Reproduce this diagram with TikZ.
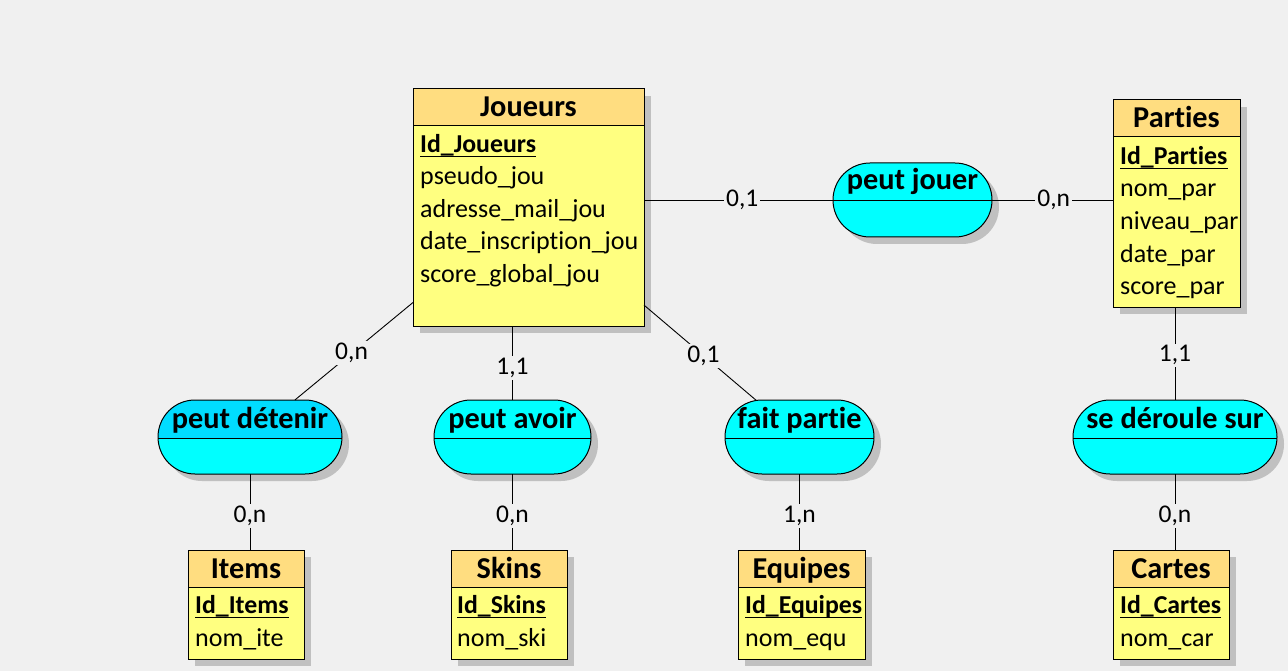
\documentclass[tikz,border=0pt]{standalone}
\usepackage{fontspec}
\setmainfont{Carlito}[Ligatures={NoCommon}]
\usetikzlibrary{shapes.misc,shadows}
\definecolor{bg}{RGB}{240,240,240}
\definecolor{enthead}{RGB}{255,221,128}
\definecolor{entbody}{RGB}{255,255,128}
\definecolor{assoc}{RGB}{0,255,255}
\definecolor{assochead}{RGB}{0,221,255}
\definecolor{shadowc}{RGB}{192,192,192}
\tikzset{
  shadowed/.style={drop shadow={shadow xshift=7pt,shadow yshift=-7pt,fill=shadowc,opacity=1}},
  entity/.style={draw, line width=1pt, fill=entbody, inner sep=0pt, outer sep=0pt, shadowed,
    path picture={\fill[enthead] (path picture bounding box.north west) rectangle ([yshift=-37pt]path picture bounding box.north east);
      \draw[line width=1pt] ([yshift=-37pt]path picture bounding box.north west) -- ([yshift=-37pt]path picture bounding box.north east);}},
  assocbox/.style={rounded rectangle, draw, line width=1pt, fill=assoc, inner sep=0pt, outer sep=0pt, minimum height=74pt, shadowed,
    path picture={\draw[line width=1pt] ([yshift=-38pt]path picture bounding box.north west) -- ([yshift=-38pt]path picture bounding box.north east);}},
  assocsel/.style={rounded rectangle, draw, line width=1pt, fill=assoc, inner sep=0pt, outer sep=0pt, minimum height=74pt, shadowed,
    path picture={\fill[assochead] (path picture bounding box.north west) rectangle ([yshift=-38pt]path picture bounding box.north east);
      \draw[line width=1pt] ([yshift=-38pt]path picture bounding box.north west) -- ([yshift=-38pt]path picture bounding box.north east);}},
  title/.style={font=\bfseries\fontsize{30.3}{33}\selectfont, inner sep=0pt, anchor=base},
  attr/.style={font=\fontsize{26}{30}\selectfont, inner sep=0pt, anchor=base west},
  idattr/.style={font=\bfseries\fontsize{25.8}{30}\selectfont, inner sep=0pt, anchor=base west},
  uline/.style={line width=1.2pt},
  conn/.style={line width=0.9pt, black},
  card/.style={font=\fontsize{25.5}{30}\selectfont, fill=bg, inner sep=2pt}
}
\begin{document}
\begin{tikzpicture}[x=1pt,y=-1pt]
\fill[bg] (0,0) rectangle (1288,671);
\useasboundingbox (0,0) rectangle (1288,671);

% entities
\node[entity, minimum width=231pt, minimum height=237pt] (joueurs) at (528.5,207.5) {};
\node[entity, minimum width=127pt, minimum height=207pt] (parties) at (1176.5,203.5) {};
\node[entity, minimum width=116pt, minimum height=109pt] (items) at (246,604.5) {};
\node[entity, minimum width=116pt, minimum height=109pt] (skins) at (509,604.5) {};
\node[entity, minimum width=127pt, minimum height=109pt] (equipes) at (801.5,604.5) {};
\node[entity, minimum width=116pt, minimum height=109pt] (cartes) at (1171,604.5) {};

% associations
\node[assocbox, minimum width=159pt] (pj) at (912.5,200) {};
\node[assocsel, minimum width=184pt] (pd) at (250,437) {};
\node[assocbox, minimum width=157pt] (pa) at (512.5,437) {};
\node[assocbox, minimum width=149pt] (fp) at (799.5,437) {};
\node[assocbox, minimum width=204pt] (sd) at (1175,437) {};

% connectors
\draw[conn] (pj.west -| joueurs.east) -- node[card, pos=0.52] (c1) {0,1} (pj.west);
\draw[conn] (pj.east) -- node[card, pos=0.51] (c2) {0,n} (pj.east -| parties.west);
\draw[conn] (joueurs) -- node[card, pos=0.52] (c3) {0,n} (pd);
\draw[conn] (pa.north |- joueurs.south) -- node[card, pos=0.57] (c4) {1,1} (pa.north);
\draw[conn] (joueurs) -- node[card, pos=0.53] (c5) {0,1} (fp);
\draw[conn] (sd.north |- parties.south) -- node[card, pos=0.52] (c6) {1,1} (sd.north);
\draw[conn] (pd.south) -- node[card, pos=0.55] (c7) {0,n} (pd.south |- items.north);
\draw[conn] (pa.south) -- node[card, pos=0.55] (c8) {0,n} (pa.south |- skins.north);
\draw[conn] (fp.south) -- node[card, pos=0.55] (c9) {1,n} (fp.south |- equipes.north);
\draw[conn] (sd.south) -- node[card, pos=0.55] (c10) {0,n} (sd.south |- cartes.north);

% association titles
\node[title] (pjt) at (912.5,190) {peut jouer};
\node[title] (pdt) at (250,428) {peut détenir};
\node[title] (pat) at (512.5,428) {peut avoir};
\node[title] (fpt) at (799.5,428) {fait partie};
\node[title] (sdt) at (1175,428) {se déroule sur};

% Joueurs
\node[title] (jt) at (528.5,117) {Joueurs};
\node[idattr] (j0) at (420,152.5) {Id\_Joueurs};
\draw[uline] ([yshift=-4pt]j0.base west) -- ([yshift=-4pt]j0.base east);
\node[attr] (j1) at (420,185) {pseudo\_jou};
\node[attr] (j2) at (420,217.5) {adresse\_mail\_jou};
\node[attr] (j3) at (420,250) {date\_inscription\_jou};
\node[attr] (j4) at (420,282.5) {score\_global\_jou};

% Parties
\node[title] (pt) at (1176.5,128) {Parties};
\node[idattr] (p0) at (1120,164.5) {Id\_Parties};
\draw[uline] ([yshift=-4pt]p0.base west) -- ([yshift=-4pt]p0.base east);
\node[attr] (p1) at (1120,197) {nom\_par};
\node[attr] (p2) at (1120,229.5) {niveau\_par};
\node[attr] (p3) at (1120,262) {date\_par};
\node[attr] (p4) at (1120,294.5) {score\_par};

% Items
\node[title] (it) at (246,578) {Items};
\node[idattr] (i0) at (195,613.5) {Id\_Items};
\draw[uline] ([yshift=-4pt]i0.base west) -- ([yshift=-4pt]i0.base east);
\node[attr] (i1) at (195,646.5) {nom\_ite};

% Skins
\node[title] (st) at (509,578) {Skins};
\node[idattr] (s0) at (457,613.5) {Id\_Skins};
\draw[uline] ([yshift=-4pt]s0.base west) -- ([yshift=-4pt]s0.base east);
\node[attr] (s1) at (457,646.5) {nom\_ski};

% Equipes
\node[title] (et) at (801.5,578) {Equipes};
\node[idattr] (e0) at (745,613.5) {Id\_Equipes};
\draw[uline] ([yshift=-4pt]e0.base west) -- ([yshift=-4pt]e0.base east);
\node[attr] (e1) at (745,646.5) {nom\_equ};

% Cartes
\node[title] (ct) at (1171,578) {Cartes};
\node[idattr] (k0) at (1120,613.5) {Id\_Cartes};
\draw[uline] ([yshift=-4pt]k0.base west) -- ([yshift=-4pt]k0.base east);
\node[attr] (k1) at (1120,646.5) {nom\_car};
\end{tikzpicture}
\end{document}
